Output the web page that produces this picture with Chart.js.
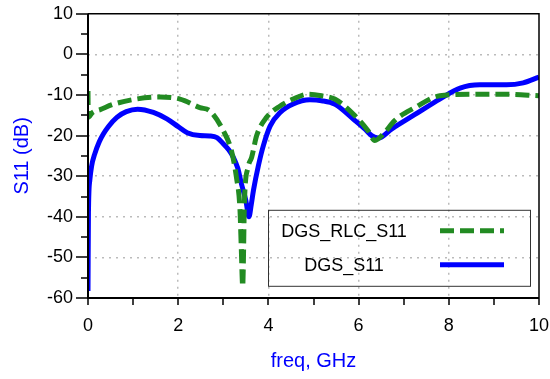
<!DOCTYPE html>
<html>
<head>
<meta charset="utf-8">
<script src="https://cdn.jsdelivr.net/npm/chart.js@4"></script>
<style>
  html, body { margin: 0; padding: 0; background: #fff; }
  #wrap { width: 550px; height: 379px; }
</style>
</head>
<body>
<div id="wrap"><canvas id="canvas-1"></canvas></div>
<script>
// freq in GHz, S11 in dB
var rlcFreq = [0, 0.005, 0.1, 0.27, 0.56, 1.07, 1.6, 2.04, 2.48, 2.7, 3.0, 3.18, 3.29, 3.37, 3.4, 3.43, 3.47, 3.55, 3.63, 3.74, 3.96, 4.26, 4.55, 4.88, 5.18, 5.47, 5.92, 6.21, 6.36, 6.58, 6.8, 7.25, 7.8, 8.54, 9.28, 10];
var rlcS11 = [-9, -15.5, -14.3, -13.6, -12.3, -11, -10.5, -11.0, -13.1, -13.9, -18.8, -23.7, -30.2, -38.3, -48.1, -57.1, -35.9, -27.8, -25.3, -20, -15.5, -12.7, -11.0, -9.8, -10.2, -11.0, -15.1, -18.8, -21.2, -19.2, -16.3, -13.1, -10.2, -9.8, -9.8, -10.2];

var dgsFreq = [0, 0.01, 0.04, 0.08, 0.15, 0.25, 0.34, 0.45, 0.64, 0.85, 1.1, 1.45, 1.75, 2.0, 2.2, 2.48, 2.7, 2.86, 3.0, 3.12, 3.22, 3.32, 3.4, 3.5, 3.57, 3.62, 3.67, 3.78, 3.89, 4.04, 4.26, 4.55, 4.92, 5.18, 5.48, 5.92, 6.15, 6.29, 6.44, 6.73, 7.25, 7.8, 8.25, 8.69, 9.28, 9.65, 10.0];
var dgsS11 = [-58.3, -39, -31, -27.5, -24.5, -21.5, -19.6, -17.8, -15.5, -14.1, -13.5, -14.3, -15.9, -17.8, -19.3, -20.0, -20.1, -20.5, -22, -23.5, -25.3, -28, -31.8, -36, -40, -37, -33.4, -27.3, -22.4, -17.6, -14.3, -12.2, -11.2, -11.4, -12.3, -16.3, -18.5, -20.0, -20.6, -18.4, -14.8, -11, -8.3, -7.5, -7.5, -7.0, -5.6];

var seriesNames = ['DGS_RLC_S11', 'DGS_S11'];
var xRange = [0, 10];
var yRange = [-60, 10];

var toPoints = function(xs, ys){
  var pts = [];
  for (var i = 0; i < xs.length; i++) pts.push({x: xs[i], y: ys[i]});
  return pts;
};

var tickFont = {family: 'Liberation Sans, Arial, sans-serif', size: 18};
var titleFont = {family: 'Liberation Sans, Arial, sans-serif', size: 20};

// axes, frame, tick marks and the boxed legend
var decoPlugin = {
  id: 'deco',
  afterDraw: function(chart){
    var ctx = chart.ctx, a = chart.chartArea;
    var xs = chart.scales.x, ys = chart.scales.y;
    ctx.save();
    ctx.strokeStyle = '#000';
    // top + right frame
    ctx.lineWidth = 1.5;
    ctx.beginPath();
    ctx.moveTo(a.left, a.top); ctx.lineTo(a.right, a.top); ctx.lineTo(a.right, a.bottom);
    ctx.stroke();
    // left + bottom axis
    ctx.lineWidth = 2;
    ctx.beginPath();
    ctx.moveTo(a.left, a.top); ctx.lineTo(a.left, a.bottom); ctx.lineTo(a.right, a.bottom);
    ctx.stroke();
    ctx.lineWidth = 1.5;
    ctx.beginPath();
    for (var v = yRange[0]; v <= yRange[1]; v += 5) {
      var py = Math.round(ys.getPixelForValue(v));
      var len = (v % 10 === 0) ? 12 : 7;
      ctx.moveTo(a.left - len, py); ctx.lineTo(a.left, py);
    }
    for (var f = xRange[0]; f <= xRange[1]; f += 1) {
      var px = Math.round(xs.getPixelForValue(f));
      ctx.moveTo(px, a.bottom); ctx.lineTo(px, a.bottom + 7);
    }
    ctx.stroke();

    // legend
    var lx = a.left + 180, ly = a.top + 196, lw = 262, lh = 76;
    ctx.lineWidth = 1;
    ctx.strokeStyle = '#333';
    ctx.strokeRect(lx + 0.5, ly + 0.5, lw, lh);
    ctx.fillStyle = '#000';
    ctx.font = '18px Liberation Sans, Arial, sans-serif';
    ctx.textAlign = 'center';
    ctx.textBaseline = 'middle';
    var ds = chart.data.datasets;
    var rows = [ly + 22, ly + 56];
    for (var i = 0; i < ds.length; i++) {
      ctx.fillText(ds[i].label, lx + 76, rows[i]);
      ctx.beginPath();
      ctx.lineWidth = ds[i].borderWidth;
      ctx.strokeStyle = ds[i].borderColor;
      ctx.setLineDash(ds[i].borderDash || []);
      ctx.moveTo(lx + 172, rows[i] - 1);
      ctx.lineTo(lx + 236, rows[i] - 1);
      ctx.stroke();
    }
    ctx.restore();
  }
};

var chart = new Chart(document.getElementById('canvas-1'), {
  type: 'line',
  data: {
    datasets: [
      {
        label: seriesNames[0],
        data: toPoints(rlcFreq, rlcS11),
        borderColor: '#228B22',
        borderWidth: 5,
        borderDash: [14, 6],
        borderCapStyle: 'butt',
        pointRadius: 0,
        cubicInterpolationMode: 'monotone',
        fill: false
      },
      {
        label: seriesNames[1],
        data: toPoints(dgsFreq, dgsS11),
        borderColor: '#0000FF',
        borderWidth: 5,
        pointRadius: 0,
        cubicInterpolationMode: 'monotone',
        fill: false
      }
    ]
  },
  options: {
    responsive: true,
    maintainAspectRatio: false,
    animation: false,
    layout: {padding: {top: 12, right: 0, left: 0, bottom: 0}},
    plugins: {legend: {display: false}, tooltip: {enabled: false}},
    scales: {
      x: {
        type: 'linear',
        min: xRange[0], max: xRange[1],
        afterFit: function(s){ s.height = 81; s.paddingRight = 11; s.paddingLeft = 0; },
        ticks: {
          stepSize: 1, color: '#000', font: tickFont, padding: 10, maxRotation: 0,
          callback: function(v){ return v % 2 === 0 ? String(v) : ''; }
        },
        grid: {
          color: function(c){ return (c.tick && c.tick.value % 2 === 0 && c.tick.value > 0 && c.tick.value < 10) ? '#bbbbbb' : 'transparent'; },
          lineWidth: 1.5, tickLength: 7, tickColor: 'transparent'
        },
        border: {display: false, dash: [2, 5]},
        title: {display: true, text: 'freq, GHz', color: '#0000FF', font: titleFont, padding: {top: 0, bottom: 6}}
      },
      y: {
        min: yRange[0], max: yRange[1],
        afterFit: function(s){ s.width = 88; },
        ticks: {
          stepSize: 5, color: '#000', font: tickFont, padding: 3,
          callback: function(v){ return v % 10 === 0 ? String(v) : ''; }
        },
        grid: {
          color: function(c){ return (c.tick && c.tick.value % 10 === 0 && c.tick.value > yRange[0] && c.tick.value < yRange[1]) ? '#bbbbbb' : 'transparent'; },
          lineWidth: 1.5, tickLength: 12, tickColor: 'transparent'
        },
        border: {display: false, dash: [2, 5]},
        title: {display: true, text: 'S11 (dB)', color: '#0000FF', font: titleFont, padding: {top: 10, bottom: 11}}
      }
    }
  },
  plugins: [decoPlugin]
});
</script>
</body>
</html>
